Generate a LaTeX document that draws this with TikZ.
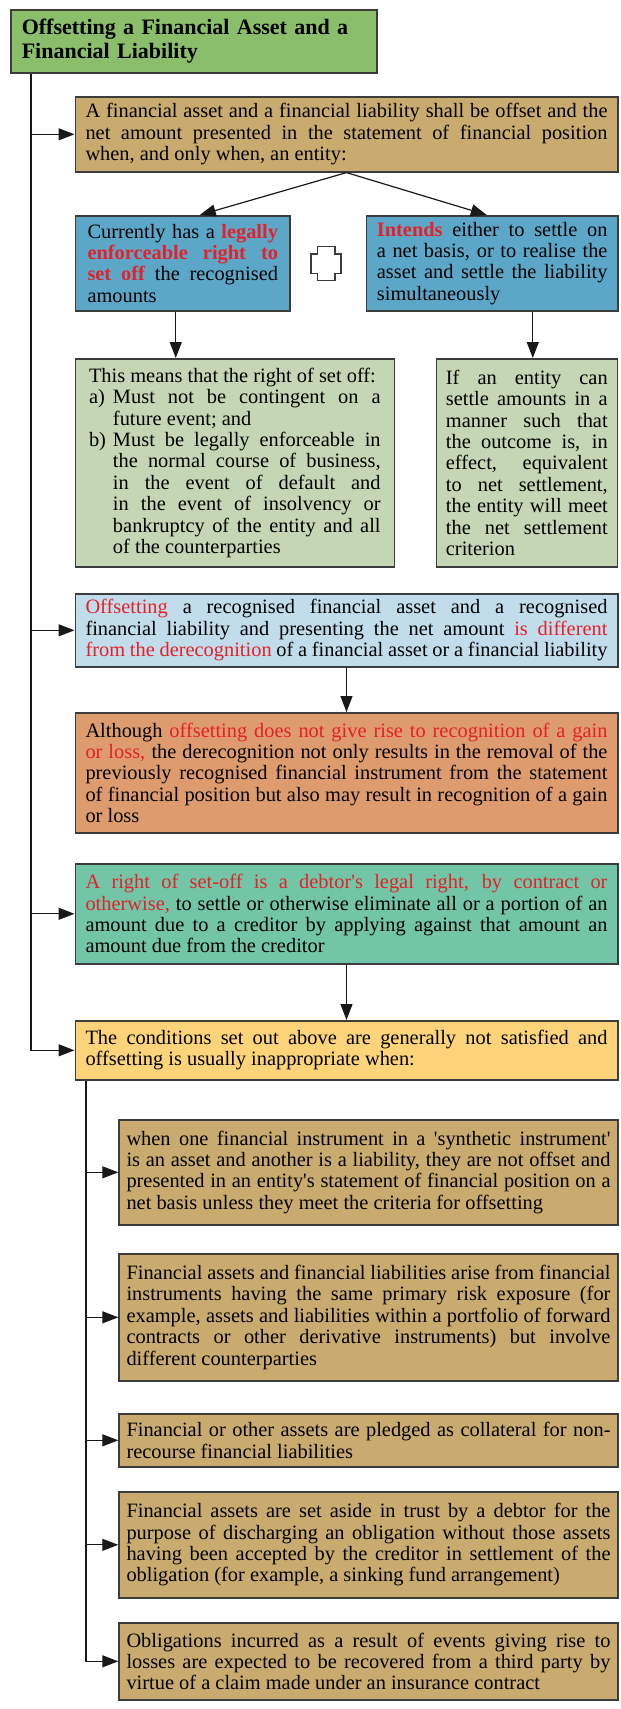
\documentclass[tikz,border=0pt]{standalone}
\usepackage{fontspec}
\setmainfont{Liberation Serif}
\usetikzlibrary{arrows.meta}

\definecolor{titlegreen}{RGB}{139,190,106}
\definecolor{sand}{RGB}{201,171,111}
\definecolor{steelblue}{RGB}{92,167,200}
\definecolor{sage}{RGB}{196,214,179}
\definecolor{paleblue}{RGB}{193,221,235}
\definecolor{apricot}{RGB}{222,156,110}
\definecolor{seagreen}{RGB}{115,197,168}
\definecolor{butter}{RGB}{254,212,122}
\definecolor{keyred}{RGB}{228,32,40}
\definecolor{edge}{RGB}{60,60,60}

\newcommand{\keyb}[1]{\textcolor{keyred}{\textbf{#1}}}
\newcommand{\keyr}[1]{\textcolor{keyred}{#1}}
\newcommand{\setpar}{\tolerance=10000 \hbadness=10000 \hyphenpenalty=10000 \relax}
\newcommand{\hangitem}[1]{\hangindent=12pt\hangafter=1 \noindent\makebox[12pt][l]{#1}}

\begin{document}
\begin{tikzpicture}[x=0.5pt, y=-0.5pt,
  box/.style={draw=edge, line width=0.8pt, anchor=north west, align=justify, inner ysep=2pt,
    font=\fontsize{10.2}{10.7}\selectfont, execute at begin node=\setpar},
  wide/.style={box, text width=261pt, inner xsep=5.1pt},
  sub/.style={box, fill=sand, text width=242pt, inner xsep=3.7pt},
  arr/.style={-{Triangle[length=8pt,width=6pt]}, line width=0.6pt, draw=black!90}]
  \useasboundingbox (0,0) rectangle (621,1709);

  \node[box, fill=titlegreen, align=left, text width=172pt, inner xsep=5.5pt, minimum height=31.5pt,
    font=\fontsize{11}{12}\selectfont\bfseries] (title) at (10,9)
    {Offsetting a Financial Asset and a\\Financial Liability};

  \node[wide, fill=sand, minimum height=37.5pt] (cond) at (74.5,96)
    {A financial asset and a financial liability shall be offset and the\linebreak
     net amount presented in the statement of financial position\linebreak
     when, and only when, an entity:};

  \node[box, fill=steelblue, text width=95.25pt, inner xsep=6.1pt, minimum height=47.5pt] (legal) at (74.5,215)
    {Currently has a \keyb{legally}\linebreak \keyb{enforceable right to}\linebreak
     \keyb{set off} the recognised\linebreak amounts};
  \node[box, fill=steelblue, text width=115.3pt, inner xsep=5.2pt, minimum height=47.5pt] (intend) at (365.7,215)
    {\keyb{Intends} either to settle on\linebreak a net basis, or to realise the\linebreak
     asset and settle the liability\linebreak simultaneously};

  \coordinate (mid) at (326,263.5);
  \draw[draw=edge, line width=0.7pt, fill=white] (mid) ++(-8.8,-16.75) -- ++(17.6,0) -- ++(0,7.3)
    -- ++(6.2,0) -- ++(0,19.2) -- ++(-6.2,0) -- ++(0,7) -- ++(-17.6,0) -- ++(0,-7)
    -- ++(-6.2,0) -- ++(0,-19.2) -- ++(6.2,0) -- cycle;

  \node[box, fill=sage, text width=145.8pt, inner xsep=6.85pt, minimum height=104pt] (means) at (74.5,358)
    {\noindent This means that the right of set off:\par
     \hangitem{a)}Must not be contingent on a\linebreak future event; and\par
     \hangitem{b)}Must be legally enforceable in\linebreak
     the normal course of business,\linebreak in the event of default and\linebreak
     in the event of insolvency or\linebreak bankruptcy of the entity and all\linebreak
     of the counterparties\par};
  \node[box, fill=sage, text width=80.9pt, inner xsep=4.8pt, minimum height=104pt] (outcome) at (435.5,358)
    {If an entity can\linebreak settle amounts in a\linebreak manner such that\linebreak
     the outcome is, in\linebreak effect, equivalent\linebreak to net settlement,\linebreak
     the entity will meet\linebreak the net settlement\linebreak criterion};

  \node[wide, fill=paleblue, minimum height=36.5pt] (differ) at (74.5,593)
    {\keyr{Offsetting} a recognised financial asset and a recognised\linebreak
     financial liability and presenting the net amount \keyr{is different}\linebreak
     \keyr{from the derecognition} of a financial asset or a financial liability};

  \node[wide, fill=apricot, minimum height=60pt] (gain) at (74.5,712)
    {Although \keyr{offsetting does not give rise to recognition of a gain}\linebreak
     \keyr{or loss,} the derecognition not only results in the removal of the\linebreak
     previously recognised financial instrument from the statement\linebreak
     of financial position but also may result in recognition of a gain\linebreak
     or loss};

  \node[wide, fill=seagreen, minimum height=50pt] (setoff) at (74.5,863)
    {\keyr{A right of set-off is a debtor\textquotesingle s legal right, by contract or}\linebreak
     \keyr{otherwise,} to settle or otherwise eliminate all or a portion of an\linebreak
     amount due to a creditor by applying against that amount an\linebreak
     amount due from the creditor};

  \node[wide, fill=butter, minimum height=29.5pt] (notmet) at (74.5,1020)
    {The conditions set out above are generally not satisfied and\linebreak
     offsetting is usually inappropriate when:};

  \node[sub, minimum height=52.5pt] (synth) at (118.3,1119)
    {when one financial instrument in a \textquotesingle synthetic instrument\textquotesingle\linebreak
     is an asset and another is a liability, they are not offset and\linebreak
     presented in an entity\textquotesingle s statement of financial position on a\linebreak
     net basis unless they meet the criteria for offsetting};
  \node[sub, minimum height=63.5pt] (risk) at (118.3,1253)
    {Financial assets and financial liabilities arise from financial\linebreak
     instruments having the same primary risk exposure (for\linebreak
     example, assets and liabilities within a portfolio of forward\linebreak
     contracts or other derivative instruments) but involve\linebreak
     different counterparties};
  \node[sub, minimum height=26.5pt] (pledge) at (118.3,1413)
    {Financial or other assets are pledged as collateral for non-\linebreak
     recourse financial liabilities};
  \node[sub, minimum height=53pt] (trust) at (118.3,1491)
    {Financial assets are set aside in trust by a debtor for the\linebreak
     purpose of discharging an obligation without those assets\linebreak
     having been accepted by the creditor in settlement of the\linebreak
     obligation (for example, a sinking fund arrangement)};
  \node[sub, minimum height=38.5pt] (insure) at (118.3,1622)
    {Obligations incurred as a result of events giving rise to\linebreak
     losses are expected to be recovered from a third party by\linebreak
     virtue of a claim made under an insurance contract};

  \coordinate (spine) at ([xshift=10.5pt]title.south west);
  \draw[arr] (spine) |- (notmet.west);
  \foreach \n in {cond,differ,setoff}
    \draw[arr] (spine |- \n.west) -- (\n.west);

  \draw[arr] (cond.south) -- ([xshift=8.5pt]legal.north);
  \draw[arr] (cond.south) -- ([xshift=-2.7pt]intend.north);
  \draw[arr] ([xshift=-3.5pt]legal.south) -- ([xshift=-3.5pt]legal.south |- means.north);
  \draw[arr] ([xshift=3pt]outcome.north |- intend.south) -- ([xshift=3pt]outcome.north);
  \draw[arr] (differ.south) -- (gain.north);
  \draw[arr] (setoff.south) -- (notmet.north);

  \coordinate (spine2) at ([xshift=5.75pt]notmet.south west);
  \draw[arr] (spine2) |- (insure.west);
  \foreach \n in {synth,risk,pledge,trust}
    \draw[arr] (spine2 |- \n.west) -- (\n.west);
\end{tikzpicture}
\end{document}
